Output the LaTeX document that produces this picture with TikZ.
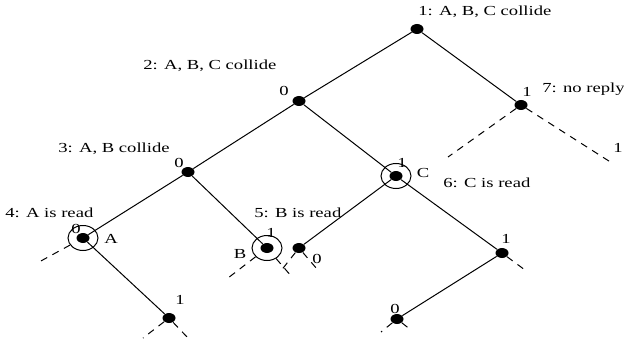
\documentclass[tikz,border=0pt]{standalone}
\usepackage{fontspec}
\setmainfont{Liberation Serif}[FakeStretch=1.35]
\usetikzlibrary{shapes.geometric}

\begin{document}
\begin{tikzpicture}[
        x=0.5pt, y=-0.5pt,
        font=\fontsize{6.9}{8}\selectfont,
        dot/.style={ellipse, fill=black, minimum width=6.5pt, minimum height=5pt, inner sep=0pt},
        ring/.style={ellipse, draw=black, line width=0.5pt, minimum width=15pt, minimum height=12.5pt, inner sep=0pt},
        edge/.style={draw=black, line width=0.5pt},
        stub/.style={draw=black, line width=0.5pt, dash pattern=on 3.5pt off 3pt},
        txt/.style={inner sep=0pt, anchor=base west},
        bit/.style={inner sep=0pt, anchor=base},
    ]
    \useasboundingbox (0,0) rectangle (624,347);

    %====================== knoten ======================
    \node[dot] (n1) at (417, 29) {};
    \node[dot] (n2) at (299, 101) {};
    \node[dot] (n7) at (521, 105) {};
    \node[dot] (n3) at (188, 172) {};
    \node[dot] (nC) at (396, 176) {};
    \node[dot] (nA) at (83, 238) {};
    \node[dot] (nB) at (267, 248) {};
    \node[dot] (nD) at (299, 248) {};
    \node[dot] (nE) at (502, 253) {};
    \node[dot] (nG) at (169, 318) {};
    \node[dot] (nF) at (397, 319) {};

    \node[ring] (ringA) at (nA) {};
    \node[ring] (ringB) at (nB) {};
    \node[ring] (ringC) at (nC) {};

    %====================== kanten ======================
    \path[edge] (n1) -- (n2);
    \path[edge] (n1) -- (n7);
    \path[edge] (n2) -- (n3);
    \path[edge] (n2) -- (nC);
    \path[edge] (n3) -- (nA);
    \path[edge] (n3) -- (nB);
    \path[edge] (nA) -- (nG);
    \path[edge] (nC) -- (nD);
    \path[edge] (nC) -- (nE);
    \path[edge] (nE) -- (nF);

    %====================== offene zweige (gestrichelt) ======================
    \coordinate (s7l) at (448, 157);
    \coordinate (s7r) at (612, 163);
    \coordinate (sAl) at (39, 262);
    \coordinate (sGl) at (143, 338);
    \coordinate (sGr) at (188, 338);
    \coordinate (sBl) at (228, 278);
    \coordinate (sBr) at (292, 277);
    \coordinate (sDl) at (280, 272);
    \coordinate (sDr) at (317, 269);
    \coordinate (sEr) at (525, 270);
    \coordinate (sFl) at (381, 332);
    \coordinate (sFr) at (411, 330);

    \path[stub] (n7) -- (s7l);
    \path[stub] (n7) -- (s7r);
    \path[stub] (ringA) -- (sAl);
    \path[stub] (nG) -- (sGl);
    \path[stub] (nG) -- (sGr);
    \path[stub] (ringB) -- (sBl);
    \path[stub] (ringB) -- (sBr);
    \path[stub] (nD) -- (sDl);
    \path[stub] (nD) -- (sDr);
    \path[stub] (nE) -- (sEr);
    \path[stub] (nF) -- (sFl);
    \path[stub] (nF) -- (sFr);

    %====================== beschriftungen ======================
    \node[txt] (t1) at (418, 16) {1: A, B, C collide};
    \node[txt] (t2) at (143, 70) {2: A, B, C collide};
    \node[txt] (t3) at (58, 152) {3: A, B collide};
    \node[txt] (t4) at (5, 217) {4: A is read};
    \node[txt] (t5) at (254, 217) {5: B is read};
    \node[txt] (t6) at (443, 187) {6: C is read};
    \node[txt] (t7) at (542, 93) {7: no reply};

    \node[bit] (b7)  at (527, 97)  {1};
    \node[bit] (b7r) at (618, 153) {1};
    \node[bit] (b2)  at (284, 96)  {0};
    \node[bit] (b3)  at (179, 167) {0};
    \node[bit] (bA)  at (76, 233)  {0};
    \node[bit] (bG)  at (180, 304) {1};
    \node[bit] (bB)  at (271, 237) {1};
    \node[bit] (bD)  at (317, 263) {0};
    \node[bit] (bC)  at (402, 167) {1};
    \node[bit] (bE)  at (506, 243) {1};
    \node[bit] (bF)  at (395, 313) {0};

    \node[bit] (lA) at (111, 243) {A};
    \node[bit] (lB) at (240, 258) {B};
    \node[bit] (lC) at (423, 177) {C};

\end{tikzpicture}
\end{document}
